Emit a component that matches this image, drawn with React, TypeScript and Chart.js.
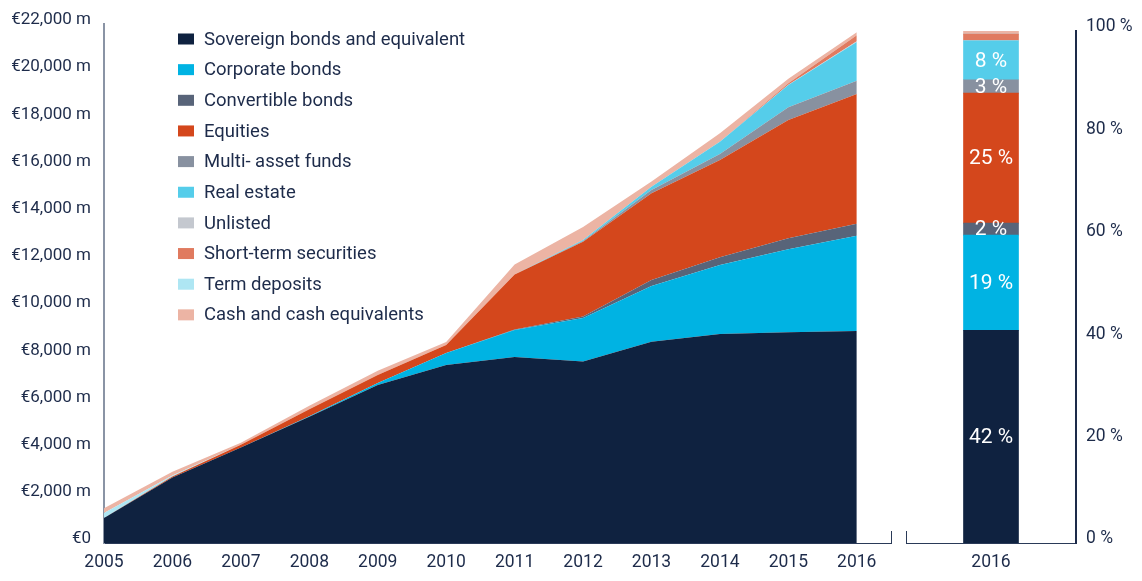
import React, { useEffect, useRef } from "react";
import { Chart, registerables } from "chart.js";

Chart.register(...registerables);

const FONT = "Roboto, 'Liberation Sans', sans-serif";
const TEXT = "#1d2b4a";

const years = [2005, 2006, 2007, 2008, 2009, 2010, 2011, 2012, 2013, 2014, 2015, 2016];
const yTicks = [0, 2000, 4000, 6000, 8000, 10000, 12000, 14000, 16000, 18000, 20000, 22000];
const pctTicks = [0, 20, 40, 60, 80, 100];

const seriesNames = [
  "Sovereign bonds and equivalent",
  "Corporate bonds",
  "Convertible bonds",
  "Equities",
  "Multi- asset funds",
  "Real estate",
  "Unlisted",
  "Short-term securities",
  "Term deposits",
  "Cash and cash equivalents",
];
const seriesColors = [
  "#0f2240",
  "#00b3e3",
  "#586479",
  "#d4471c",
  "#8891a0",
  "#55cdea",
  "#c4c8cf",
  "#e07a5f",
  "#aee6f3",
  "#ecb4a4",
];

const sovereign = [1060, 2780, 4050, 5350, 6700, 7550, 7885, 7690, 8535, 8860, 8930, 8990];
const corporate = [0, 0, 0, 20, 80, 505, 1145, 1850, 2360, 2925, 3520, 4030];
const convertible = [0, 0, 0, 0, 0, 0, 20, 60, 255, 325, 465, 510];
const equities = [0, 40, 120, 300, 340, 340, 2330, 3170, 3675, 4125, 5015, 5500];
const multiAsset = [0, 0, 0, 0, 0, 0, 0, 30, 140, 255, 540, 565];
const realEstate = [0, 0, 0, 0, 0, 0, 0, 40, 140, 520, 945, 1640];
const unlisted = [0, 0, 0, 0, 0, 0, 0, 0, 0, 0, 10, 30];
const shortTerm = [0, 0, 0, 0, 0, 0, 0, 0, 0, 0, 60, 260];
const termDeposits = [210, 40, 0, 0, 0, 0, 0, 0, 0, 0, 0, 0];
const cash = [200, 160, 80, 150, 180, 130, 425, 550, 215, 355, 195, 130];

const seriesValues = [
  sovereign,
  corporate,
  convertible,
  equities,
  multiAsset,
  realEstate,
  unlisted,
  shortTerm,
  termDeposits,
  cash,
];

const barYear = "2016";

const fmtMoney = (v: number) =>
  v === 0 ? "€0" : "€" + v.toLocaleString("en-US") + " m";

const insideLegend = {
  id: "insideLegend",
  afterDraw(chart: any) {
    const { ctx, chartArea } = chart;
    const x0 = chartArea.left + 74;
    ctx.save();
    ctx.font = `18.5px ${FONT}`;
    ctx.textBaseline = "middle";
    ctx.textAlign = "left";
    chart.data.datasets.forEach((ds: any, i: number) => {
      const cy = chartArea.top + 15 + i * 30.65;
      ctx.fillStyle = ds.backgroundColor;
      ctx.fillRect(x0, cy - 5.5, 16, 11);
      ctx.fillStyle = TEXT;
      ctx.fillText(ds.label, x0 + 26, cy + 1);
    });
    ctx.restore();
  },
};

const endTick = (side: "left" | "right") => ({
  id: "endTick" + side,
  afterDraw(chart: any) {
    const { ctx } = chart;
    const xs = chart.scales.x;
    const x = side === "right" ? xs.right : xs.left;
    ctx.save();
    ctx.strokeStyle = "#2a3a58";
    ctx.lineWidth = 1;
    ctx.beginPath();
    ctx.moveTo(Math.round(x) + 0.5, xs.top + 0.5);
    ctx.lineTo(Math.round(x) + 0.5, xs.top - 12);
    ctx.stroke();
    ctx.restore();
  },
});

const barLabels = {
  id: "barLabels",
  afterDatasetsDraw(chart: any) {
    const { ctx } = chart;
    ctx.save();
    ctx.font = `21px ${FONT}`;
    ctx.fillStyle = "#ffffff";
    ctx.textAlign = "center";
    ctx.textBaseline = "middle";
    chart.data.datasets.forEach((ds: any, i: number) => {
      const v = ds.data[0];
      if (v < 1.5) return;
      const el = chart.getDatasetMeta(i).data[0];
      ctx.fillText(Math.round(v) + " %", el.x, (el.y + el.base) / 2 + 1);
    });
    ctx.restore();
  },
};

export default function App() {
  const leftRef = useRef<HTMLCanvasElement>(null);
  const rightRef = useRef<HTMLCanvasElement>(null);

  useEffect(() => {
    const left = new Chart(leftRef.current!, {
      type: "line",
      data: {
        labels: years,
        datasets: seriesValues.map((vals, i) => ({
          label: seriesNames[i],
          data: vals.map((v, j) => ({ x: years[j], y: v })),
          backgroundColor: seriesColors[i],
          borderColor: seriesColors[i],
          borderWidth: 0,
          pointRadius: 0,
          tension: 0,
          fill: i === 0 ? "origin" : "-1",
        })),
      },
      options: {
        animation: false,
        responsive: false,
        layout: { padding: { top: 24, right: 9, left: 0, bottom: 0 } },
        plugins: { legend: { display: false }, tooltip: { enabled: false } },
        scales: {
          x: {
            type: "linear",
            min: 2005,
            max: 2016.5,
            grid: { display: false, drawTicks: false },
            border: { display: true, color: "#2a3a58", width: 1 },
            afterBuildTicks: (s: any) => {
              s.ticks = years.map((v) => ({ value: v }));
            },
            afterFit: (s: any) => {
              s.height = 38;
            },
            ticks: {
              color: TEXT,
              font: { family: FONT, size: 17.5 },
              padding: 9,
              maxRotation: 0,
              autoSkip: false,
              callback: (v: any) => String(v),
            },
          },
          y: {
            stacked: true,
            min: 0,
            max: 22000,
            grid: { display: false, drawTicks: false },
            border: { display: true, color: "#8a94a5", width: 2 },
            afterBuildTicks: (s: any) => {
              s.ticks = yTicks.map((v) => ({ value: v }));
            },
            afterFit: (s: any) => {
              s.width = 104;
            },
            ticks: {
              color: TEXT,
              font: { family: FONT, size: 17 },
              padding: 13,
              labelOffset: -4,
              callback: (v: any) => fmtMoney(Number(v)),
            },
          },
        },
      },
      plugins: [insideLegend, endTick("right")],
    });

    const total2016 = seriesValues.reduce((a, s) => a + s[s.length - 1], 0);
    const right = new Chart(rightRef.current!, {
      type: "bar",
      data: {
        labels: [barYear],
        datasets: seriesValues.map((vals, i) => ({
          label: seriesNames[i],
          data: [(vals[vals.length - 1] / total2016) * 100],
          backgroundColor: seriesColors[i],
          borderWidth: 0,
          barThickness: 55,
        })),
      },
      options: {
        animation: false,
        responsive: false,
        layout: { padding: { top: 31, left: 8, right: 0, bottom: 0 } },
        plugins: { legend: { display: false }, tooltip: { enabled: false } },
        scales: {
          x: {
            stacked: true,
            grid: { display: false, drawTicks: false },
            border: { display: true, color: "#2a3a58", width: 1 },
            afterFit: (s: any) => {
              s.height = 38;
            },
            ticks: {
              color: TEXT,
              font: { family: FONT, size: 17.5 },
              padding: 9,
            },
          },
          y: {
            stacked: true,
            position: "right",
            min: 0,
            max: 100,
            grid: { display: false, drawTicks: false },
            border: { display: true, color: "#1d2b4a", width: 2 },
            afterBuildTicks: (s: any) => {
              s.ticks = pctTicks.map((v) => ({ value: v }));
            },
            afterFit: (s: any) => {
              s.width = 66;
            },
            ticks: {
              color: TEXT,
              font: { family: FONT, size: 17.5 },
              padding: 10,
              labelOffset: -4,
              callback: (v: any) => v + " %",
            },
          },
        },
      },
      plugins: [barLabels, endTick("left")],
    });

    return () => {
      left.destroy();
      right.destroy();
    };
  }, []);

  return (
    <div style={{ position: "absolute", left: 0, top: 0, width: 1142, height: 581, background: "#fff" }}>
      <canvas
        ref={leftRef}
        width={900}
        height={581}
        style={{ position: "absolute", left: 0, top: 0, width: 900, height: 581 }}
      />
      <canvas
        ref={rightRef}
        width={244}
        height={581}
        style={{ position: "absolute", left: 898, top: 0, width: 244, height: 581 }}
      />
    </div>
  );
}
